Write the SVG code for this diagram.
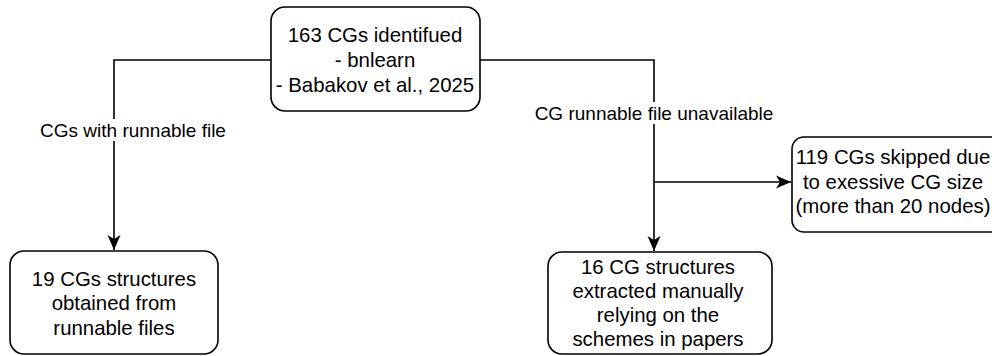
<svg xmlns="http://www.w3.org/2000/svg" width="992" height="356" viewBox="0 0 992 356">
<defs>
<style>
.box{fill:#ffffff;stroke:#000000;stroke-width:1.6}
.t{font-family:"Liberation Sans",Arial,sans-serif;font-size:20.4px;fill:#000;text-anchor:middle}
.lb{font-family:"Liberation Sans",Arial,sans-serif;font-size:19px;fill:#000;text-anchor:middle}
.edge{fill:none;stroke:#000;stroke-width:1.6}
.lbg{fill:#ffffff}
</style>
<marker id="arr" viewBox="0 0 16 14" refX="15" refY="7" markerWidth="16" markerHeight="14" markerUnits="userSpaceOnUse" orient="auto">
<path d="M15,7 L0,0.5 L4,7 L0,13.5 Z" fill="#000"/>
</marker>
</defs>
<rect width="992" height="356" fill="#ffffff"/>
<g id="connectors">
<path class="edge" d="M271,60 L114,60 L114,250" marker-end="url(#arr)"/>
<path class="edge" d="M480,60 L654,60 L654,251" marker-end="url(#arr)"/>
<path class="edge" d="M654,182 L791,182" marker-end="url(#arr)"/>
<rect class="lbg" x="38" y="119" width="192" height="22"/>
<text class="lb" x="133" y="137">CGs with runnable file</text>
<rect class="lbg" x="533" y="102" width="243" height="22"/>
<text class="lb" x="654" y="120">CG runnable file unavailable</text>
</g>
<g id="n_top">
<rect class="box" x="271" y="7" width="209" height="104" rx="14"/>
<text class="t" x="375" y="42">163 CGs identifued</text>
<text class="t" x="375" y="67">- bnlearn</text>
<text class="t" x="375" y="92">- Babakov et al., 2025</text>
</g>
<g id="n_runnable">
<rect class="box" x="10" y="251" width="208" height="103" rx="14"/>
<text class="t" x="114" y="286">19 CGs structures</text>
<text class="t" x="114" y="310">obtained from</text>
<text class="t" x="114" y="335">runnable files</text>
</g>
<g id="n_manual">
<rect class="box" x="548" y="252" width="224" height="102" rx="14"/>
<text class="t" x="658" y="274">16 CG structures</text>
<text class="t" x="658" y="298">extracted manually</text>
<text class="t" x="658" y="322">relying on the</text>
<text class="t" x="658" y="346">schemes in papers</text>
</g>
<g id="n_skipped">
<rect class="box" x="792" y="137" width="212" height="95" rx="12"/>
<text class="t" x="893" y="164">119 CGs skipped due</text>
<text class="t" x="893" y="189">to exessive CG size</text>
<text class="t" x="893" y="213">(more than 20 nodes)</text>
</g>
</svg>
